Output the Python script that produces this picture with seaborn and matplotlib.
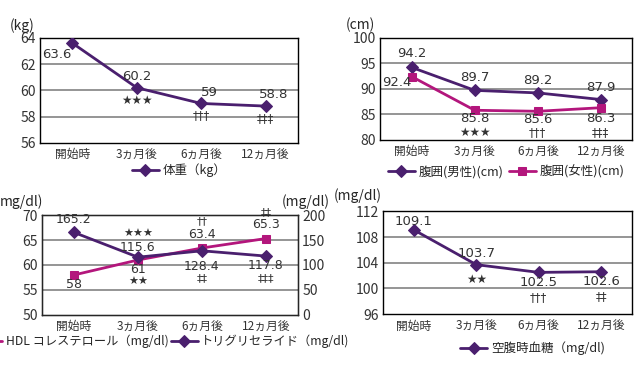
import matplotlib
matplotlib.use("Agg")
import matplotlib.pyplot as plt
import seaborn as sns

# data
periods = ["開始時", "3ヵ月後", "6ヵ月後", "12ヵ月後"]
weight = [63.6, 60.2, 59, 58.8]
weight_marks = ["", "★★★", "†††", "‡‡‡"]
waist_male = [94.2, 89.7, 89.2, 87.9]
waist_female = [92.4, 85.8, 85.6, 86.3]
waist_marks = ["", "★★★", "†††", "‡‡‡"]
hdl = [58, 61, 63.4, 65.3]
hdl_marks = ["", "★★", "‡‡", "‡‡‡"]
tg = [165.2, 115.6, 128.4, 117.8]
tg_marks = ["", "★★★", "††", "‡‡"]
glucose = [109.1, 103.7, 102.5, 102.6]
glucose_marks = ["", "★★", "†††", "‡‡"]

PURPLE = "#4a1f6e"
MAGENTA = "#b3167c"

sns.set_style("white")
plt.rcParams['font.family'] = ['Noto Sans CJK JP', 'DejaVu Sans']
plt.rcParams['font.size'] = 9.5

fig = plt.figure(figsize=(6.4, 3.74), dpi=100)
xs = list(range(len(periods)))


def base_axes(rect, ymin, ymax, step):
    ax = fig.add_axes(rect)
    ax.set_xlim(-0.5, 3.5)
    ax.set_ylim(ymin, ymax)
    ax.set_yticks(range(ymin, ymax + 1, step))
    ax.set_xticks(xs)
    ax.set_xticklabels(periods, fontsize=8.5, color="#333333")
    ax.tick_params(axis="x", length=0, pad=4)
    ax.tick_params(axis="y", length=0, pad=3, labelsize=10, labelcolor="#333333")
    ax.set_xticks([0.5, 1.5, 2.5], minor=True)
    ax.tick_params(axis="x", which="minor", direction="in", length=3, color="#555555")
    for y in range(ymin + step, ymax, step):
        ax.axhline(y, color="#8c8c8c", lw=1.3, zorder=0)
    for s in ax.spines.values():
        s.set_color("black")
        s.set_linewidth(1.0)
    return ax


def plot_series(ax, vals, color, marker, label):
    sns.lineplot(x=xs, y=vals, ax=ax, color=color, marker=marker, markersize=6,
                 markeredgecolor=color, lw=2, label=label, legend=False, zorder=3)


def note(ax, x, y, txt, dx=0, dy=0, size=9.5):
    ax.annotate(txt, (x, y), xytext=(dx, dy), textcoords="offset points",
                ha="center", va="center", fontsize=size, color="#333333",
                family=['DejaVu Sans', 'Noto Sans CJK JP'])


def legend_below(ax, y, ncol, x=0.5):
    ax.legend(loc="upper center", bbox_to_anchor=(x, y), ncol=ncol, frameon=False,
              fontsize=9, handlelength=2.2, columnspacing=0.4, handletextpad=0.3,
              borderaxespad=0)


# panel 1: weight
ax1 = base_axes([0.0625, 0.618, 0.403, 0.281], 56, 64, 2)
plot_series(ax1, weight, PURPLE, "D", "体重（kg）")
note(ax1, 0, weight[0], "63.6", -11, -8)
for i in (1, 2, 3):
    note(ax1, i, weight[i], f"{weight[i]:g}", 6 if i > 1 else 0, 8)
    note(ax1, i, weight[i], weight_marks[i], 0, -9, 8.5)
ax1.text(-0.07, 1.12, "(kg)", transform=ax1.transAxes, ha="center", va="center", fontsize=10)
legend_below(ax1, -0.15, 1, 0.54)

# panel 2: waist
ax2 = base_axes([0.594, 0.626, 0.394, 0.273], 80, 100, 5)
plot_series(ax2, waist_male, PURPLE, "D", "腹囲(男性)(cm)")
plot_series(ax2, waist_female, MAGENTA, "s", "腹囲(女性)(cm)")
note(ax2, 0, waist_male[0], "94.2", 0, 10)
note(ax2, 0, waist_female[0], "92.4", -11, -4)
for i in (1, 2, 3):
    note(ax2, i, waist_male[i], f"{waist_male[i]:g}", 0, 9)
    note(ax2, i, waist_female[i], f"{waist_female[i]:g}", 0, -8 if i == 3 else -6)
    ax2.annotate(waist_marks[i], (i, 80), xytext=(0, 5), textcoords="offset points",
                 ha="center", va="center", fontsize=8.5, color="#333333",
                 family=['DejaVu Sans', 'Noto Sans CJK JP'])
ax2.text(-0.08, 1.13, "(cm)", transform=ax2.transAxes, ha="center", va="center", fontsize=10)
legend_below(ax2, -0.2, 2)

# panel 3: HDL and triglycerides
ax3 = base_axes([0.0656, 0.158, 0.4, 0.267], 50, 70, 5)
ax3r = ax3.twinx()
ax3r.set_ylim(0, 200)
ax3r.set_yticks(range(0, 201, 50))
ax3r.tick_params(axis="y", length=0, pad=3, labelsize=10, labelcolor="#333333")
plot_series(ax3, hdl, MAGENTA, "s", "HDL コレステロール（mg/dl)")
plot_series(ax3r, tg, PURPLE, "D", "トリグリセライド（mg/dl)")
note(ax3r, 0, tg[0], "165.2", 0, 9, 9)
note(ax3, 0, hdl[0], "58", 0, -7, 9)
note(ax3r, 1, tg[1], "115.6", 0, 7, 9)
note(ax3r, 1, tg[1], tg_marks[1], 0, 17, 8)
note(ax3, 1, hdl[1], "61", 0, -7, 9)
note(ax3, 1, hdl[1], hdl_marks[1], 0, -16, 8)
for i in (2, 3):
    note(ax3, i, hdl[i], f"{hdl[i]:g}", 0, 10, 9)
    note(ax3, i, hdl[i], tg_marks[i], 0, 19, 8)
    note(ax3r, i, tg[i], f"{tg[i]:g}", 0, -11 if i == 2 else -7, 9)
    note(ax3r, i, tg[i], hdl_marks[i], 0, -20 if i == 2 else -16, 8)
fig.text(0.0, 1 - 202 / 374, "mg/dl)", ha="left", va="center", fontsize=10)
ax3.text(1.03, 1.13, "(mg/dl)", transform=ax3.transAxes, ha="center", va="center", fontsize=10)
h1, l1 = ax3.get_legend_handles_labels()
h2, l2 = ax3r.get_legend_handles_labels()
ax3.legend(h1 + h2, l1 + l2, loc="upper center", bbox_to_anchor=(0.47, -0.15), ncol=2,
           frameon=False, fontsize=8.8, handlelength=2.2, columnspacing=0.2,
           handletextpad=0.3, borderaxespad=0)

# panel 4: fasting glucose
ax4 = base_axes([0.598, 0.160, 0.39, 0.275], 96, 112, 4)
plot_series(ax4, glucose, PURPLE, "D", "空腹時血糖（mg/dl)")
note(ax4, 0, glucose[0], "109.1", 0, 6)
note(ax4, 1, glucose[1], "103.7", 0, 8)
note(ax4, 1, glucose[1], glucose_marks[1], 0, -11, 8.5)
for i in (2, 3):
    note(ax4, i, glucose[i], f"{glucose[i]:g}", 0, -7)
    note(ax4, i, glucose[i], glucose_marks[i], 0, -18, 8.5)
ax4.text(-0.1, 1.15, "(mg/dl)", transform=ax4.transAxes, ha="center", va="center", fontsize=10)
legend_below(ax4, -0.22, 1, 0.6)

fig.savefig("out.png", dpi=100)
